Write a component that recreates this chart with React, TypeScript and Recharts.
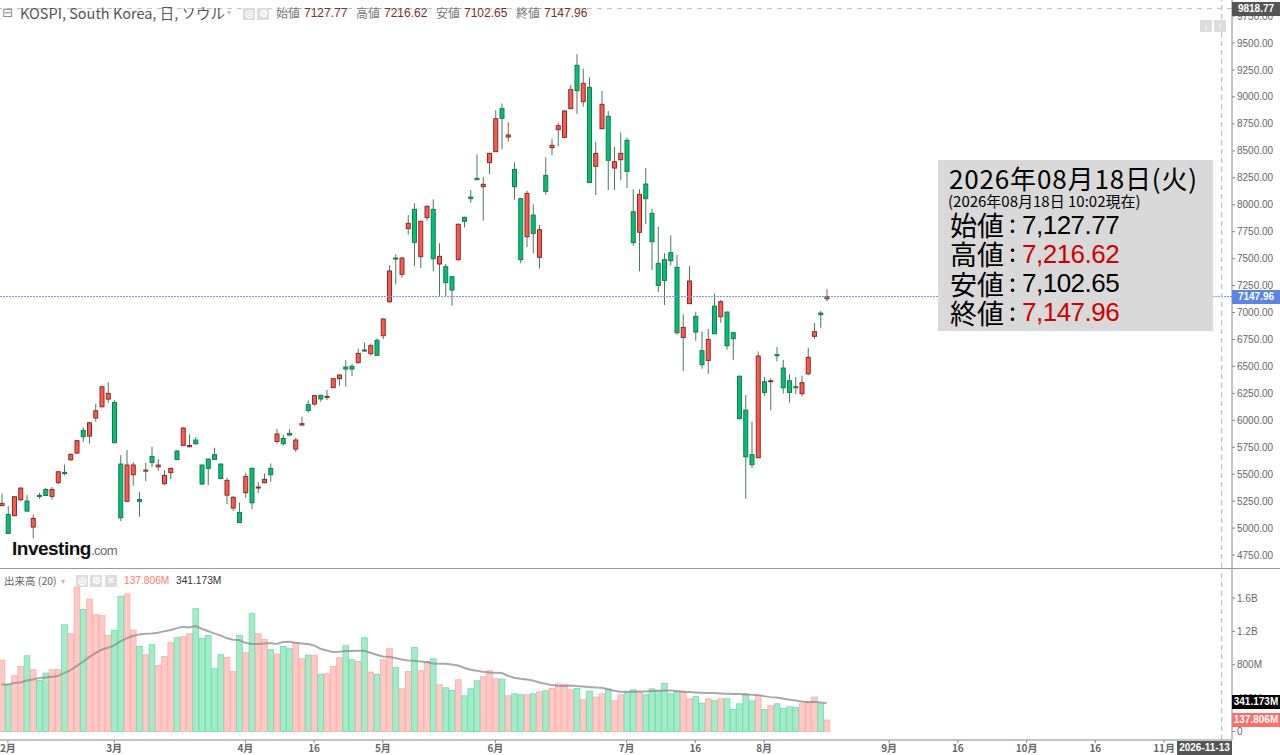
import React from 'react';
import { ComposedChart, Bar, Line, XAxis, YAxis, ReferenceLine } from 'recharts';

// daily OHLC, oldest first
const opens = [
  5208, 5127, 5115, 5263, 5251, 5010, 5303, 5359, 5294, 5421, 5517, 5634, 5696, 5906, 5854, 6021, 6126, 6197, 6166, 5594,
  5248, 5495, 5266, 5529, 5665, 5569, 5412, 5514, 5715, 5767, 5755, 5817, 5585, 5640, 5681, 5594, 5306, 5186, 5146, 5328,
  5554, 5375, 5421, 5554, 5804, 5832, 5879, 5733, 5956, 6145, 6151, 6232, 6213, 6303, 6386, 6494, 6501, 6535, 6652, 6618,
  6742, 6785, 7100, 7505, 7354, 7778, 7957, 7518, 7880, 7957, 7450, 7425, 7332, 7490, 7883, 8071, 8245, 8167, 8390, 8492,
  8891, 8628, 8328, 8056, 7703, 7904, 7512, 8272, 8529, 8696, 8625, 8891, 9293, 8956, 9089, 8356, 8705, 8820, 8340, 8418,
  8597, 7935, 7744, 8192, 7920, 7456, 7490, 7555, 7419, 6769, 7082, 6964, 6646, 6556, 7060, 6961, 7004, 6813, 6408, 6095,
  5681, 5653, 6358, 6358, 6609, 6485, 6367, 6312, 6247, 6432, 6779, 6995, 7127.77,
];
const highs = [
  5322, 5204, 5295, 5378, 5306, 5127, 5328, 5371, 5381, 5526, 5588, 5693, 5817, 5934, 5987, 6154, 6321, 6352, 6185, 5678,
  5724, 5610, 5334, 5603, 5755, 5637, 5538, 5563, 5724, 5937, 5869, 5845, 5591, 5647, 5746, 5600, 5467, 5297, 5238, 5514,
  5563, 5427, 5507, 5600, 5922, 5866, 5919, 5836, 6034, 6185, 6232, 6235, 6281, 6392, 6429, 6559, 6522, 6664, 6720, 6711,
  6760, 6946, 7437, 7539, 7515, 7904, 8013, 7852, 7994, 8050, 7642, 7450, 7338, 7827, 7889, 8136, 8467, 8257, 8483, 8878,
  8940, 8764, 8393, 8062, 8130, 8003, 7812, 8439, 8609, 8758, 8878, 9110, 9398, 9262, 9181, 8585, 9055, 8869, 8535, 8671,
  8622, 8143, 8143, 8340, 7963, 7796, 7549, 7716, 7533, 6983, 7431, 7007, 6825, 6847, 7174, 7116, 7007, 6816, 6417, 6234,
  5987, 6639, 6401, 6389, 6680, 6559, 6426, 6401, 6411, 6673, 6902, 7014, 7216.62,
];
const lows = [
  5208, 4945, 5112, 5251, 5152, 4905, 5272, 5297, 5263, 5409, 5489, 5625, 5693, 5801, 5783, 5987, 6120, 6163, 5789, 5065,
  5245, 5393, 5105, 5436, 5566, 5532, 5399, 5455, 5634, 5764, 5749, 5773, 5402, 5399, 5634, 5455, 5223, 5161, 5050, 5279,
  5177, 5325, 5415, 5430, 5783, 5764, 5857, 5706, 5953, 6071, 6136, 6173, 6188, 6300, 6321, 6312, 6411, 6528, 6637, 6600,
  6600, 6754, 7094, 7261, 7323, 7722, 7431, 7413, 7852, 7382, 7156, 7153, 7063, 7481, 7790, 8019, 8230, 7852, 8285, 8489,
  8514, 8585, 8047, 7456, 7605, 7549, 7407, 8093, 8458, 8544, 8619, 8885, 8841, 8909, 8204, 8090, 8699, 8136, 8136, 8226,
  8155, 7620, 7382, 7821, 7394, 7190, 7070, 7437, 6794, 6457, 7079, 6738, 6479, 6432, 6800, 6905, 6655, 6562, 6006, 5273,
  5557, 5650, 6228, 6092, 6547, 6247, 6163, 6244, 6222, 6417, 6754, 6859, 7102.65,
];
const closes = [
  5229, 4951, 5291, 5371, 5158, 5090, 5297, 5303, 5359, 5523, 5507, 5684, 5811, 5848, 5977, 6089, 6311, 6250, 5792, 5096,
  5585, 5585, 5248, 5538, 5610, 5585, 5489, 5554, 5637, 5928, 5767, 5783, 5409, 5554, 5637, 5461, 5443, 5285, 5053, 5480,
  5235, 5381, 5452, 5495, 5873, 5783, 5863, 5817, 5969, 6092, 6229, 6198, 6222, 6386, 6420, 6476, 6476, 6621, 6643, 6692,
  6603, 6940, 7385, 7496, 7505, 7827, 7651, 7846, 7985, 7499, 7521, 7277, 7209, 7818, 7846, 8056, 8232, 8189, 8476, 8798,
  8801, 8647, 8167, 7490, 8105, 7734, 7768, 8124, 8551, 8733, 8869, 9067, 9058, 9126, 8207, 8476, 8931, 8412, 8399, 8476,
  8309, 7648, 8096, 8056, 7657, 7252, 7298, 7481, 6813, 6862, 7292, 6819, 6516, 6751, 6803, 7100, 6692, 6757, 6018, 5662,
  5588, 6596, 6259, 6367, 6599, 6302, 6259, 6302, 6349, 6584, 6822, 6980, 7147.96,
];

// volume in millions and its 20 day average line
const volumes = [
  856, 564, 668, 780, 908, 740, 612, 700, 740, 740, 1280, 1172, 1732, 1464, 1588, 1400, 1388, 1152, 1216, 1620,
  1648, 1216, 1020, 920, 1040, 792, 900, 1064, 1124, 1136, 1172, 1472, 1116, 1152, 752, 920, 888, 720, 1152, 944,
  1412, 1172, 1104, 980, 928, 1020, 992, 1068, 872, 916, 916, 684, 692, 780, 884, 1028, 860, 840, 1124, 712,
  684, 860, 992, 768, 512, 720, 1008, 728, 840, 872, 560, 524, 492, 620, 428, 512, 608, 656, 728, 632,
  628, 428, 452, 440, 440, 452, 476, 488, 516, 572, 568, 500, 516, 380, 484, 412, 452, 508, 368, 440,
  472, 500, 472, 440, 512, 492, 576, 452, 476, 484, 392, 420, 340, 392, 368, 392, 392, 264, 332, 452,
  368, 432, 264, 308, 332, 276, 296, 288, 332, 356, 412, 332, 137.806,
];
const volumeAvg = [
  564, 564, 580, 588, 612, 624, 640, 648, 656, 664, 700, 732, 784, 836, 892, 940, 980, 1004, 1032, 1080,
  1116, 1144, 1164, 1172, 1176, 1184, 1200, 1216, 1236, 1256, 1248, 1264, 1232, 1204, 1176, 1152, 1120, 1100, 1096, 1064,
  1048, 1048, 1056, 1060, 1048, 1072, 1076, 1064, 1056, 1048, 1032, 992, 972, 952, 956, 964, 964, 968, 968, 944,
  920, 900, 896, 880, 864, 852, 848, 840, 832, 816, 812, 812, 804, 792, 764, 740, 728, 716, 708, 704,
  700, 668, 644, 632, 624, 612, 588, 572, 556, 548, 544, 552, 544, 540, 532, 528, 524, 508, 488, 476,
  476, 476, 480, 480, 484, 488, 492, 492, 484, 476, 472, 468, 464, 460, 460, 456, 452, 448, 448, 444,
  440, 436, 424, 412, 408, 396, 380, 372, 360, 352, 356, 348, 341.173,
];

const priceTicks = [
  4750, 5000, 5250, 5500, 5750, 6000, 6250, 6500, 6750, 7000, 7250, 7500, 7750, 8000, 8250, 8500, 8750, 9000, 9250, 9500, 9750,
];
const volumeTicks = [0, 400, 800, 1200, 1600];
// x axis counts trading days, including the empty ones to the right of the last candle
const dayTicks = [1, 18, 39, 50, 61, 79, 100, 111, 122, 142, 153, 164, 175, 186];
const dayLabels = ['2月', '3月', '4月', '16', '5月', '6月', '7月', '16', '8月', '9月', '16', '10月', '16', '11月'];

const lastClose = 7147.96;
const crossPrice = 9818.77;
const crossDay = 195.2;

const rows = opens.map((open, i) => ({
  day: i,
  open,
  high: highs[i],
  low: lows[i],
  close: closes[i],
  volume: volumes[i],
  avg: volumeAvg[i],
}));

const AXIS_FONT = '"Liberation Sans", Arial, sans-serif';
const JP_FONT = '"Noto Sans CJK JP", "Liberation Sans", sans-serif';
const dayDomain: [number, number] = [-0.26, 196.86];

const Candle = (props: any) => {
  const { x, y, width, height, payload } = props;
  const top = Math.min(y, y + height);
  const full = Math.abs(height);
  const perUnit = full / (payload.high - payload.low);
  const cx = x + width / 2;
  const bodyTop = top + (payload.high - Math.max(payload.open, payload.close)) * perUnit;
  const bodyH = Math.max(Math.abs(payload.open - payload.close) * perUnit, 1);
  const up = payload.close >= payload.open;
  return (
    <g>
      <line x1={cx} x2={cx} y1={top} y2={top + full} stroke="#4a7a62" strokeWidth={1} />
      <rect
        x={cx - 2}
        y={bodyTop}
        width={4}
        height={bodyH}
        fill={up ? '#fb5a50' : '#00c176'}
        stroke={up ? '#8e2a26' : '#16794f'}
        strokeWidth={1}
      />
    </g>
  );
};

const VolumeBar = (props: any) => {
  const { x, y, width, height, payload } = props;
  const up = payload.close >= payload.open;
  return (
    <rect
      x={x + width / 2 - 2.85}
      y={y}
      width={5.7}
      height={height}
      fill={up ? '#ffc9c5' : '#a5ebc9'}
      stroke={up ? '#ffaaa5' : '#68dfa9'}
      strokeWidth={0.8}
    />
  );
};

const Tag = ({ top, left = 1232, width = 48, bg, text }: any) => (
  <div
    style={{
      position: 'absolute',
      left,
      top,
      width,
      height: 14,
      background: bg,
      color: '#fff',
      font: `bold 10px/14px ${AXIS_FONT}`,
      textAlign: 'center',
      whiteSpace: 'nowrap',
      overflow: 'hidden',
    }}
  >
    {text}
  </div>
);

const Label = ({ x, y, size, color = '#000', font = JP_FONT, spacing = 0, children }: any) => (
  <div
    style={{
      position: 'absolute',
      left: x,
      top: y,
      fontFamily: font,
      fontSize: size,
      lineHeight: `${size + 2}px`,
      letterSpacing: spacing,
      color,
      whiteSpace: 'nowrap',
    }}
  >
    {children}
  </div>
);

const Chip = ({ x, y, w = 12, glyph }: any) => (
  <div
    style={{
      position: 'absolute',
      left: x,
      top: y,
      width: w,
      height: 12,
      background: '#dcdcdc',
      color: '#fff',
      font: `bold 10px/12px ${AXIS_FONT}`,
      textAlign: 'center',
    }}
  >
    {glyph}
  </div>
);

const headerValues = [
  ['始値', '7127.77', 276],
  ['高値', '7216.62', 356],
  ['安値', '7102.65', 436],
  ['終値', '7147.96', 516],
];

const summaryRows = [
  ['始値', '7,127.77', '#000'],
  ['高値', '7,216.62', '#cc0000'],
  ['安値', '7,102.65', '#000'],
  ['終値', '7,147.96', '#cc0000'],
];

export default function App() {
  return (
    <div style={{ position: 'absolute', left: 0, top: 0, width: 1280, height: 755, background: '#fff', overflow: 'hidden' }}>
      <div style={{ position: 'absolute', left: 0, top: 0 }}>
        <ComposedChart width={1280} height={568} data={rows} margin={{ top: 0, right: 0, bottom: 0, left: 0 }}>
          <XAxis dataKey="day" type="number" domain={dayDomain} allowDataOverflow hide />
          <YAxis
            orientation="right"
            width={48}
            domain={[4630, 9899]}
            allowDataOverflow
            ticks={priceTicks}
            interval={0}
            tickFormatter={(v: number) => v.toFixed(2)}
            tick={{ fontSize: 10, fill: '#666', fontFamily: AXIS_FONT }}
            tickSize={3}
            tickMargin={2}
            stroke="#888"
          />
          <ReferenceLine y={lastClose} stroke="#7391ee" strokeDasharray="2 1" />
          <ReferenceLine y={crossPrice} stroke="#bbb" strokeDasharray="5 5" />
          <ReferenceLine x={crossDay} stroke="#c8c8c8" strokeWidth={1.5} strokeDasharray="5 4" />
          <Bar dataKey={(d: any) => [d.low, d.high]} barSize={5} shape={<Candle />} isAnimationActive={false} />
        </ComposedChart>
      </div>

      <div style={{ position: 'absolute', left: 0, top: 568, width: 1280, height: 1, background: '#999' }} />

      <div style={{ position: 'absolute', left: 0, top: 569 }}>
        <ComposedChart width={1280} height={186} data={rows} margin={{ top: 0, right: 0, bottom: 0, left: 0 }} barCategoryGap={0}>
          <XAxis
            dataKey="day"
            type="number"
            domain={dayDomain}
            allowDataOverflow
            ticks={dayTicks}
            interval={0}
            tickFormatter={(v: number) => dayLabels[dayTicks.indexOf(v)]}
            tick={{ fontSize: 10, fill: '#666', fontFamily: JP_FONT, fontWeight: 700 }}
            tickSize={3}
            tickMargin={2}
            height={15}
            stroke="#888"
          />
          <YAxis
            orientation="right"
            width={48}
            domain={[-102, 1948]}
            allowDataOverflow
            ticks={volumeTicks}
            interval={0}
            tickFormatter={(v: number) => (v === 0 ? '0' : v >= 1000 ? `${(v / 1000).toFixed(1)}B` : `${v}M`)}
            tick={{ fontSize: 10, fill: '#666', fontFamily: AXIS_FONT }}
            tickSize={3}
            tickMargin={2}
            stroke="#888"
          />
          <ReferenceLine x={crossDay} stroke="#c8c8c8" strokeWidth={1.5} strokeDasharray="5 4" />
          <Bar dataKey="volume" barSize={5} shape={<VolumeBar />} isAnimationActive={false} />
          <Line
            dataKey="avg"
            type="linear"
            stroke="#8c8c8c"
            strokeOpacity={0.75}
            strokeWidth={2}
            dot={false}
            isAnimationActive={false}
          />
        </ComposedChart>
      </div>

      <Tag top={2} bg="#555" text="9818.77" />
      <Tag top={290} bg="#5d86e0" text="7147.96" />
      <Tag top={695} bg="#000" text="341.173M" />
      <Tag top={713} bg="#ff6f6a" text="137.806M" />
      <Tag top={741} left={1177} width={55} bg="#555" text="2026-11-13" />

      <Chip x={1200} y={20} glyph="↓" />
      <Chip x={1214} y={20} glyph="↑" />

      {/* header line */}
      <Label x={2} y={5} size={13} color="#888" font='"DejaVu Sans", sans-serif'>⊟</Label>
      <Label x={20} y={5} size={14.5} color="#555">KOSPI, South Korea, 日, ソウル</Label>
      <Label x={227} y={7} size={8} color="#bbb">▾</Label>
      <Chip x={243} y={8} glyph="◎" />
      <Chip x={257} y={8} glyph="⚙" />
      {headerValues.map(([name, value, x]) => (
        <React.Fragment key={name as string}>
          <Label x={x} y={6} size={12} color="#777">{name}</Label>
          <Label x={(x as number) + 28} y={6} size={12} color="#7a2f28" font={AXIS_FONT}>{value}</Label>
        </React.Fragment>
      ))}

      {/* volume panel header */}
      <Label x={4} y={575} size={10.5} color="#666">出来高 (20)</Label>
      <Label x={61} y={576} size={8} color="#bbb">▾</Label>
      <Chip x={76} y={575} glyph="◎" />
      <Chip x={90} y={575} glyph="⚙" />
      <Chip x={105} y={575} glyph="×" />
      <Label x={124} y={575} size={10.2} color="#ff7670" font={AXIS_FONT}>137.806M</Label>
      <Label x={176} y={575} size={10.2} color="#333" font={AXIS_FONT}>341.173M</Label>

      {/* logo */}
      <div style={{ position: 'absolute', left: 12, top: 538, whiteSpace: 'nowrap', fontFamily: AXIS_FONT, letterSpacing: -0.5 }}>
        <span style={{ fontSize: 19, fontWeight: 700, color: '#111' }}>Investing</span>
        <span style={{ fontSize: 13, color: '#666' }}>.com</span>
      </div>

      {/* summary box */}
      <div style={{ position: 'absolute', left: 938, top: 160, width: 275, height: 171, background: '#d9d9d9' }} />
      <Label x={949} y={164} size={26} spacing={0.85}>2026年08月18日(火)</Label>
      <Label x={948} y={192} size={15}>(2026年08月18日 10:02現在)</Label>
      {summaryRows.map(([name, value, color], i) => (
        <React.Fragment key={name}>
          <Label x={950} y={210 + i * 29.3} size={27}>{name}</Label>
          <Label x={1009} y={209 + i * 29.3} size={25}>:</Label>
          <Label x={1022} y={210.5 + i * 29.3} size={26} spacing={-0.5} color={color} font={AXIS_FONT}>{value}</Label>
        </React.Fragment>
      ))}
    </div>
  );
}
